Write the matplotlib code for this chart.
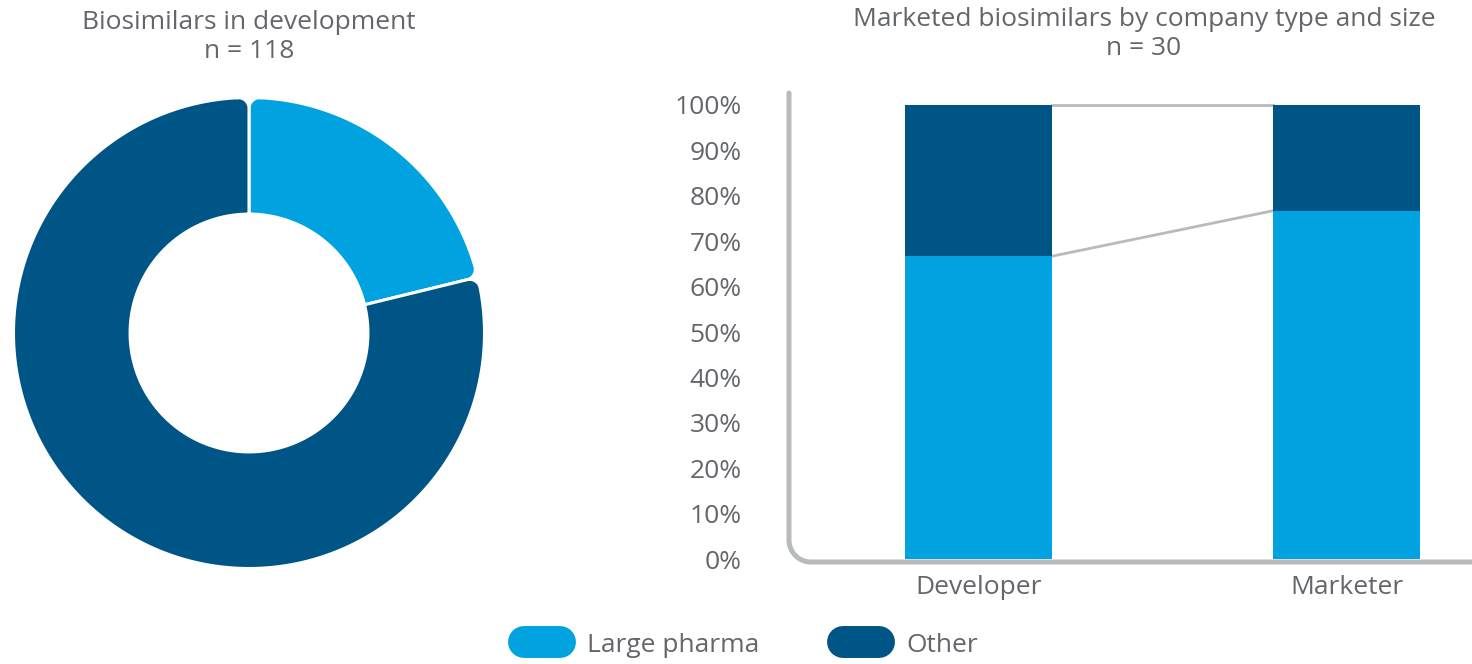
import matplotlib
matplotlib.use("Agg")
import matplotlib.pyplot as plt
from matplotlib.lines import Line2D
from matplotlib.path import Path
from matplotlib.patches import PathPatch
import numpy as np

plt.rcParams["font.family"] = ["Open Sans", "DejaVu Sans"]

# ---- data ----
donut_title = "Biosimilars in development\nn = 118"
donut_labels = ["Large pharma", "Other"]
donut_counts = [25, 93]

bar_title = "Marketed biosimilars by company type and size\nn = 30"
bar_categories = ["Developer", "Marketer"]
large_pharma_pct = [66.7, 76.7]
other_pct = [33.3, 23.3]
y_ticks = [0, 10, 20, 30, 40, 50, 60, 70, 80, 90, 100]

legend_labels = ["Large pharma", "Other"]

LIGHT = "#00a3e0"
DARK = "#005587"
GREY_LINE = "#b7bbbc"
TEXT = "#63666a"
FS = 19

W, H = 1472, 664
fig = plt.figure(figsize=(W / 100, H / 100), dpi=100)


def px_rect(x0, y0, x1, y1):
    """Figure rectangle from pixel edges (top-left origin)."""
    return [x0 / W, 1 - y1 / H, (x1 - x0) / W, (y1 - y0) / H]


def rounded_ring_sector(t1, t2, r_out, r_in, c):
    """Ring sector (degrees t1<t2) whose two outer corners are filleted."""
    a1, a2 = np.radians(t1), np.radians(t2)
    n = max(80, int(abs(t2 - t1) * 3))
    d = np.arcsin(c / (r_out - c))
    rc = r_out - c

    def fillet(a, sign):
        # fillet circle centre, tangent to the outer arc and the radial edge
        ca = a + sign * d
        centre = np.array([rc * np.cos(ca), rc * np.sin(ca)])
        p_line = rc * np.cos(d) * np.array([np.cos(a), np.sin(a)])
        p_arc = r_out * np.array([np.cos(ca), np.sin(ca)])
        s = np.arctan2(*(p_line - centre)[::-1])
        e = np.arctan2(*(p_arc - centre)[::-1])
        if sign > 0 and e < s:
            e += 2 * np.pi
        if sign < 0 and e > s:
            e -= 2 * np.pi
        tt = np.linspace(s, e, 16)
        return centre + c * np.column_stack([np.cos(tt), np.sin(tt)])

    pts = [[r_in * np.cos(a1), r_in * np.sin(a1)]]
    pts.extend(fillet(a1, +1))
    ta = np.linspace(a1 + d, a2 - d, n)
    pts.extend(np.column_stack([r_out * np.cos(ta), r_out * np.sin(ta)]))
    pts.extend(fillet(a2, -1)[::-1])
    ti = np.linspace(a2, a1, n)
    pts.extend(np.column_stack([r_in * np.cos(ti), r_in * np.sin(ti)]))
    pts.append(pts[0])
    return Path(np.array(pts), closed=True)


# ---- donut ----
cx, cy, R = 249, 333, 235.5
axd = fig.add_axes(px_rect(cx - R, cy - R, cx + R, cy + R))
ring_w = 0.495
wedges, _ = axd.pie(donut_counts, colors=[LIGHT, DARK], startangle=90,
                    counterclock=False, radius=1.0,
                    wedgeprops=dict(width=ring_w))
for w in wedges:
    w.set_visible(False)
    path = rounded_ring_sector(w.theta1, w.theta2, w.r, w.r - ring_w, 0.045)
    axd.add_patch(PathPatch(path, facecolor=w.get_facecolor(),
                            edgecolor="white", lw=2.2, joinstyle="miter"))
axd.set_xlim(-1, 1)
axd.set_ylim(-1, 1)
axd.set_aspect("equal")
axd.axis("off")
fig.text(cx / W, 1 - 37 / H, donut_title, ha="center", va="center",
         fontsize=FS, color=TEXT, linespacing=1.22)

# ---- stacked bars ----
ax0, ax1 = 789, 1472
ay0, ay1 = 93, 562
ax = fig.add_axes(px_rect(ax0, ay0, ax1, ay1))
x = np.arange(len(bar_categories))
bw = 0.4
ax.bar(x, large_pharma_pct, width=bw, color=LIGHT, zorder=3)
ax.bar(x, other_pct, bottom=large_pharma_pct, width=bw, color=DARK, zorder=3)

# connector lines between the bars
tops = [l + o for l, o in zip(large_pharma_pct, other_pct)]
ax.plot([x[0] + bw / 2, x[1] - bw / 2], [tops[0], tops[1]],
        color=GREY_LINE, lw=2, zorder=2)
ax.plot([x[0] + bw / 2, x[1] - bw / 2],
        [large_pharma_pct[0], large_pharma_pct[1]],
        color=GREY_LINE, lw=2, zorder=2)

ax.set_xlim(-0.515, 1.34)
ax.set_ylim(-0.6, 102.6)
ax.set_yticks(y_ticks)
ax.set_yticklabels([f"{t}%" for t in y_ticks])
ax.set_xticks(x)
ax.set_xticklabels(bar_categories)
ax.tick_params(axis="y", length=0, pad=34, labelsize=FS, labelcolor=TEXT)
ax.tick_params(axis="x", length=0, pad=9, labelsize=FS, labelcolor=TEXT)
for s in ax.spines.values():
    s.set_visible(False)
ax.patch.set_alpha(0)

# rounded L-shaped axis line
aw, ah = ax1 - ax0, ay1 - ay0
r = 22
rx, ry = r / aw, r / ah
t = np.linspace(np.pi, 1.5 * np.pi, 20)
arc = np.column_stack([rx + rx * np.cos(t), ry + ry * np.sin(t)])
verts = np.vstack([[0, 1], [0, ry], arc, [rx, 0], [1, 0]])
axis_path = Path(verts)
ax.add_patch(PathPatch(axis_path, transform=ax.transAxes, fill=False,
                       edgecolor=GREY_LINE, lw=3.6, capstyle="round",
                       clip_on=False, zorder=4))

fig.text(1144 / W, 1 - 34 / H, bar_title, ha="center", va="center",
         fontsize=FS, color=TEXT, linespacing=1.22)

# ---- legend ----
handles = [Line2D([0], [0], color=c, lw=23, solid_capstyle="round")
           for c in [LIGHT, DARK]]
leg = fig.legend(handles, legend_labels, loc="center",
                 bbox_to_anchor=(751 / W, 1 - 645 / H), ncol=2, frameon=False,
                 fontsize=FS, handlelength=1.36, handletextpad=1.02,
                 columnspacing=3.18)
for txt in leg.get_texts():
    txt.set_color(TEXT)

fig.savefig("out.png", dpi=100)
